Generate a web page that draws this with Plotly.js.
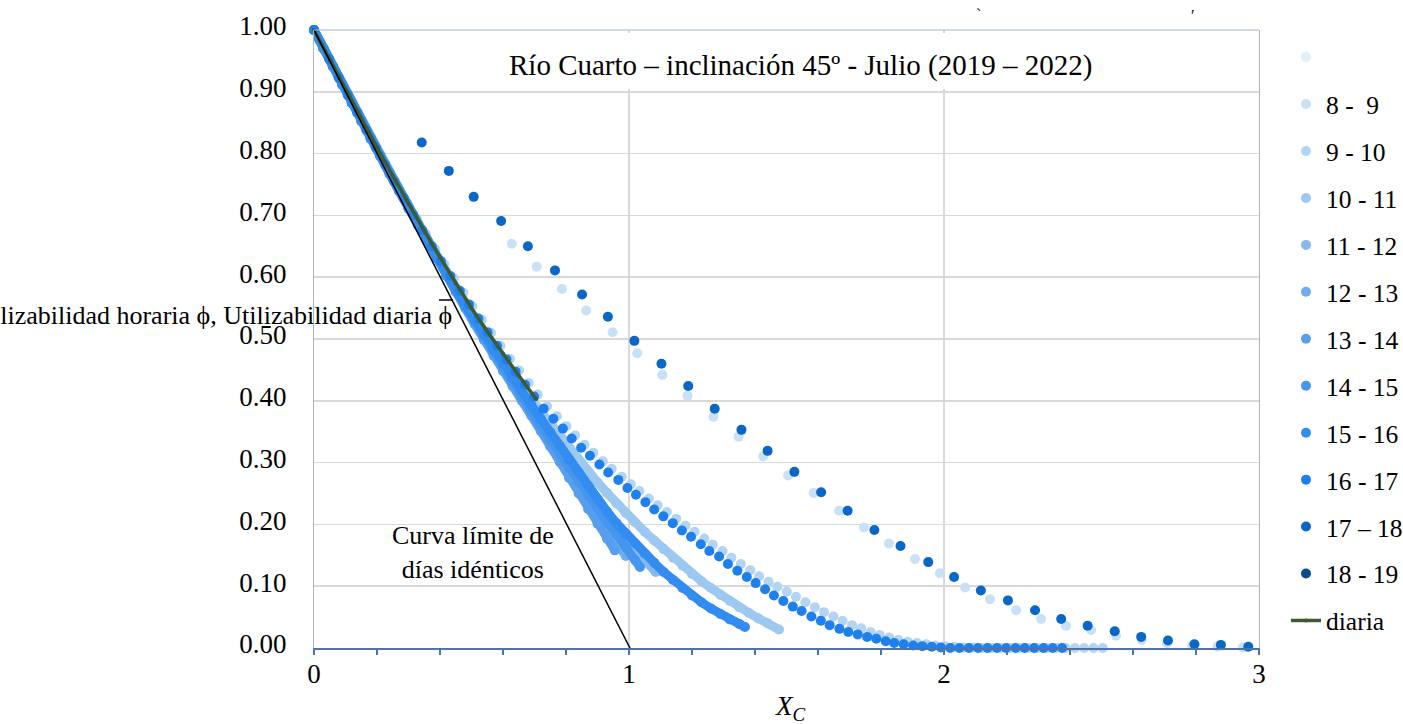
<!DOCTYPE html>
<html>
<head>
<meta charset="utf-8">
<script src="https://cdn.plot.ly/plotly-3.0.1.min.js"></script>
<style>html,body{margin:0;padding:0;background:#fff;}#chart{width:1403px;height:724px;}</style>
</head>
<body>
<div id="chart"></div>
<script>
// ---------------- DATA ----------------
const seriesNames = ["\u00a0", "8 - \u00a09", "9 - 10", "10 - 11", "11 - 12", "12 - 13", "13 - 14",
  "14 - 15", "15 - 16", "16 - 17", "17 \u2013 18", "18 - 19"];
const seriesColors = ["#e2eefa", "#c9e1f6", "#b3d4f2", "#9dc8f0", "#86baee", "#6eadee", "#579fee",
  "#4496ee", "#338cef", "#1e80ee", "#0a67c6", "#0a4b8e"];

// 7-8 (blank legend entry) : no visible points
const x_0708 = [null];
const y_0708 = [null];

// 8-9
const x_0809 = [0.628,0.707,0.787,0.864,0.948,1.026,1.106,1.186,1.268,1.348,1.426,1.505,1.586,1.667,1.746,1.825,1.908,1.987,2.067,2.146,2.229,2.308,2.387,2.467,2.546,2.628,2.708,2.788,2.868,2.949];
const y_0809 = [0.654,0.617,0.581,0.546,0.511,0.477,0.442,0.408,0.374,0.342,0.310,0.279,0.251,0.222,0.195,0.169,0.144,0.121,0.098,0.079,0.061,0.047,0.036,0.029,0.020,0.013,0.008,0.004,0.002,0.001];

// 9-10
const x_0910 = [0,0.059,0.089,0.118,0.148,0.177,0.207,0.237,0.266,0.296,0.326,0.355,0.385,0.414,0.444,0.474,0.503,0.533,0.562,0.592,0.622,0.651,0.681,0.710,
  0.740,0.771,0.801,0.829,0.859,0.887,0.917,0.945,0.977,1.006,1.033,1.063,1.091,1.120,1.150,1.179,1.208,1.239,1.266,1.297,1.325,1.355,1.385,1.413,1.443,1.471,
  1.501,1.530,1.560,1.590,1.619,1.649,1.678,1.708,1.737,1.767,1.796,1.826,1.855,1.885,1.914,1.944,1.973,2.003,2.032,2.062,
  2.091,2.121,2.150,2.180,2.209,2.239,2.268,2.298,2.327,2.357,2.386,2.416,2.445,2.475,2.504];
const y_0910 = [1,0.943,0.913,0.885,0.857,0.829,0.801,0.774,0.747,0.721,0.695,0.670,0.645,0.621,0.598,0.575,0.553,0.531,0.510,0.489,0.468,0.449,0.429,0.410,
  0.391,0.375,0.359,0.344,0.329,0.316,0.302,0.290,0.277,0.265,0.254,0.242,0.231,0.220,0.209,0.198,0.188,0.177,0.167,0.157,0.146,0.136,0.126,0.116,0.107,0.099,
  0.091,0.083,0.074,0.066,0.058,0.051,0.044,0.037,0.032,0.026,0.021,0.017,0.013,0.010,0.008,0.006,0.004,0.003,0.002,0.001,
  0.001,0,0,0,0,0,0,0,0,0,0,0,0,0,0];

// 10-11
const x_1011 = [0,0.03,0.06,0.09,0.12,0.15,0.18,0.21,0.24,0.27,0.30,0.33,0.36,0.39,
  0.42,0.45,0.48,0.51,0.54,0.57,0.60,0.63,0.66,0.69,0.72,0.75,0.78,0.81,0.84,0.87,0.90,0.93,0.96,0.99,
  1.02,1.05,1.08,1.11,1.14,1.17,1.20,1.23,1.26,1.29,1.32,1.35,1.38,1.41,1.44,1.476];
const y_1011 = [1.000,0.971,0.941,0.912,0.883,0.854,0.825,0.797,0.769,0.742,0.714,0.687,0.661,0.634,
  0.608,0.583,0.559,0.535,0.512,0.489,0.467,0.445,0.424,0.403,0.383,0.363,0.343,0.324,0.305,0.286,0.268,0.251,0.234,0.218,
  0.203,0.188,0.174,0.160,0.146,0.133,0.120,0.108,0.097,0.086,0.076,0.066,0.057,0.048,0.040,0.030];

// 11-12
const x_1112 = [0,0.03,0.06,0.09,0.12,0.15,0.18,0.21,0.24,0.27,0.30,0.33,0.36,0.39,
  0.42,0.45,0.48,0.51,0.54,0.57,0.60,0.63,0.66,0.69,0.72,0.75,0.78,0.81,0.84,0.87,0.90,0.93,0.96,0.99,1.02,1.05,1.085];
const y_1112 = [1.000,0.970,0.941,0.912,0.882,0.853,0.825,0.797,0.769,0.741,0.713,0.686,0.659,0.632,
  0.605,0.579,0.554,0.529,0.505,0.481,0.457,0.434,0.411,0.388,0.365,0.343,0.320,0.298,0.277,0.256,0.235,0.215,0.196,0.177,0.159,0.142,0.123];

// 12-13
const x_1213 = [0,0.03,0.06,0.09,0.12,0.15,0.18,0.21,0.24,0.27,0.30,0.33,0.36,0.39,
  0.42,0.45,0.48,0.51,0.54,0.57,0.60,0.63,0.66,0.69,0.72,0.75,0.78,0.81,0.84,0.87,0.90,0.93,0.96,0.99];
const y_1213 = [1.000,0.970,0.941,0.911,0.882,0.853,0.824,0.796,0.768,0.740,0.712,0.685,0.658,0.631,
  0.604,0.578,0.552,0.526,0.501,0.476,0.452,0.428,0.404,0.380,0.356,0.332,0.308,0.284,0.260,0.237,0.214,0.192,0.170,0.149];

// 13-14
const x_1314 = [0,0.03,0.06,0.09,0.12,0.15,0.18,0.21,0.24,0.27,0.30,0.33,0.36,0.39,
  0.42,0.45,0.48,0.51,0.54,0.57,0.60,0.63,0.66,0.69,0.72,0.75,0.78,0.81,0.84,0.87,0.90,0.93,0.955];
const y_1314 = [1.000,0.970,0.941,0.911,0.882,0.853,0.824,0.796,0.767,0.739,0.711,0.684,0.657,0.630,
  0.602,0.576,0.550,0.524,0.498,0.473,0.448,0.424,0.400,0.376,0.351,0.326,0.301,0.275,0.250,0.225,0.201,0.177,0.158];

// 14-15
const x_1415 = [0,0.03,0.06,0.09,0.12,0.15,0.18,0.21,0.24,0.27,0.30,0.33,0.36,0.39,
  0.42,0.45,0.48,0.51,0.54,0.57,0.60,0.63,0.66,0.69,0.72,0.75,0.78,0.81,0.84,0.87,0.90,0.93,0.96,0.99,1.02,1.035];
const y_1415 = [1.000,0.970,0.941,0.911,0.882,0.853,0.824,0.796,0.768,0.740,0.712,0.685,0.658,0.631,
  0.604,0.578,0.553,0.528,0.503,0.479,0.455,0.431,0.407,0.384,0.360,0.337,0.314,0.291,0.269,0.247,0.226,0.205,0.184,0.163,0.142,0.131];

// 15-16
const x_1516 = [0,0.03,0.06,0.09,0.12,0.15,0.18,0.21,0.24,0.27,0.30,0.33,0.36,0.39,
  0.42,0.45,0.48,0.51,0.54,0.57,0.60,0.63,0.66,0.69,0.72,0.75,0.78,0.81,0.84,0.87,0.90,0.93,0.96,0.99,
  1.02,1.05,1.08,1.11,1.14,1.17,1.20,1.23,1.26,1.29,1.32,1.35,1.368];
const y_1516 = [1.000,0.970,0.941,0.912,0.882,0.853,0.825,0.797,0.769,0.741,0.713,0.686,0.659,0.632,
  0.606,0.580,0.555,0.531,0.507,0.483,0.460,0.437,0.415,0.393,0.371,0.349,0.327,0.305,0.284,0.263,0.242,0.221,0.202,0.185,
  0.169,0.153,0.138,0.123,0.110,0.097,0.085,0.074,0.064,0.055,0.046,0.039,0.034];

// 16-17
const x_1617 = [0,0.048,0.078,0.107,0.137,0.166,0.196,0.226,0.255,0.285,0.315,0.344,0.374,0.403,0.433,0.463,0.492,0.522,0.551,0.581,0.611,0.640,0.670,0.699,
  0.729,0.760,0.790,0.818,0.848,0.876,0.906,0.934,0.966,0.995,1.022,1.052,1.080,1.109,1.139,1.168,1.197,1.228,1.255,1.286,1.314,1.344,1.374,1.402,1.432,1.460,
  1.490,1.520,1.548,1.579,1.609,1.637,1.668,1.696,1.726,1.756,1.785,1.815,1.842,1.872,1.902,1.931,1.961,1.990,
  2.020,2.049,2.079,2.108,2.138,2.168,2.197,2.227,2.256,2.286,2.316,2.345,2.375];
const y_1617 = [1,0.953,0.923,0.895,0.866,0.838,0.810,0.782,0.755,0.728,0.701,0.676,0.650,0.626,0.602,0.578,0.556,0.533,0.511,0.489,0.467,0.447,0.426,0.407,
  0.387,0.371,0.355,0.339,0.324,0.311,0.297,0.284,0.272,0.259,0.248,0.236,0.224,0.213,0.202,0.190,0.180,0.168,0.157,0.148,0.136,0.125,0.115,0.105,0.095,0.085,
  0.076,0.067,0.060,0.051,0.044,0.037,0.031,0.026,0.022,0.018,0.015,0.011,0.008,0.006,0.004,0.003,0.002,0.001,
  0,0,0,0,0,0,0,0,0,0,0,0,0];

// 17-18
const x_1718 = [0.342,0.428,0.507,0.594,0.679,0.765,0.851,0.933,1.017,1.103,1.188,1.272,1.357,1.440,1.525,1.610,1.694,1.779,1.862,1.950,2.032,2.117,2.203,2.289,2.372,2.456,2.542,2.626,2.711,2.795,2.879,2.966];
const y_1718 = [0.818,0.772,0.730,0.691,0.650,0.611,0.572,0.536,0.497,0.460,0.424,0.387,0.353,0.319,0.285,0.252,0.222,0.191,0.165,0.139,0.115,0.093,0.077,0.061,0.047,0.036,0.027,0.018,0.012,0.006,0.005,0.002];

// 18-19 : no visible points
const x_1819 = [null];
const y_1819 = [null];

// daily utilizability (diaria)
const x_diaria = [0,0.05,0.10,0.15,0.20,0.25,0.30,0.35,0.40,0.45,0.50,0.55,0.60,0.65,0.705];
const y_diaria = [1,0.952,0.904,0.857,0.810,0.764,0.719,0.675,0.632,0.590,0.550,0.512,0.476,0.441,0.403];

// identical-days limit curve
const x_limite = [0, 1.003];
const y_limite = [1, 0];

const xTicks = [0, 1, 2, 3];
const yTicks = [0, 0.1, 0.2, 0.3, 0.4, 0.5, 0.6, 0.7, 0.8, 0.9, 1.0];

const chartTitle = "Río Cuarto \u2013 inclinación 45º - Julio (2019 \u2013 2022)";
const yLabel = "Utilizabilidad horaria \u03d5, Utilizabilidad diaria \u03d5";
const xLabel = "<i>X</i><sub><i>C</i></sub>";
const limiteLabel = "Curva límite de<br>días idénticos";

// ---------------- TRACES ----------------
const hourly = [
  [x_0708, y_0708], [x_0809, y_0809], [x_0910, y_0910], [x_1011, y_1011], [x_1112, y_1112],
  [x_1213, y_1213], [x_1314, y_1314], [x_1415, y_1415], [x_1516, y_1516], [x_1617, y_1617],
  [x_1718, y_1718], [x_1819, y_1819]
];
// series whose points are so close together that they merge into a continuous band
const denseSeries = [3, 4, 5, 6, 7, 8];

const traces = [];
hourly.forEach((xy, i) => {
  if (denseSeries.includes(i)) {
    traces.push({
      type: 'scatter', mode: 'lines', x: xy[0], y: xy[1], legendgroup: 'g' + i,
      showlegend: false, cliponaxis: false, hoverinfo: 'skip',
      line: {color: seriesColors[i], width: 9}
    });
  }
  traces.push({
    type: 'scatter', mode: 'markers', name: seriesNames[i],
    x: xy[0], y: xy[1], legendgroup: 'g' + i, cliponaxis: false,
    marker: {size: 10, color: seriesColors[i], line: {width: 0}},
    hoverinfo: 'x+y'
  });
});
traces.push({
  type: 'scatter', mode: 'lines+markers', name: 'diaria', x: x_diaria, y: y_diaria,
  legendgroup: 'gd', cliponaxis: false,
  line: {color: '#3e5a2f', width: 3.5}, marker: {size: 4, color: '#3e5a2f'}
});
traces.push({
  type: 'scatter', mode: 'lines', x: x_limite, y: y_limite, showlegend: false,
  cliponaxis: false, line: {color: '#000000', width: 1.5}
});

const FONT = '"Liberation Serif", "Times New Roman", serif';
const L = 314, R = 1259, T = 30, B = 648;
const px = v => (v - L) / (R - L);
const py = v => (B - v) / (B - T);

const layout = {
  width: 1403, height: 724,
  margin: {l: L, r: 1403 - R, t: T, b: 724 - B, pad: 0, autoexpand: false},
  paper_bgcolor: '#ffffff', plot_bgcolor: '#ffffff',
  font: {family: FONT, size: 26, color: '#000000'},
  showlegend: true,
  legend: {
    x: px(1286), xanchor: 'left', y: py(34), yanchor: 'top',
    font: {family: FONT, size: 25.5, color: '#000'},
    bgcolor: 'rgba(0,0,0,0)', borderwidth: 0,
    traceorder: 'grouped', tracegroupgap: 10.8
  },
  xaxis: {
    range: [0, 3], tickvals: xTicks, ticktext: xTicks.map(String),
    showgrid: true, gridcolor: '#d9d9d9', gridwidth: 1.5, zeroline: false,
    showline: true, linecolor: '#4f73a8', linewidth: 1.5,
    ticks: 'outside', ticklen: 5, tickcolor: '#4f73a8', tickwidth: 1.2,
    minor: {dtick: 0.2, ticks: 'outside', ticklen: 5, tickcolor: '#4f73a8', tickwidth: 1.2, showgrid: false},
    tickfont: {family: FONT, size: 27, color: '#000'},
    ticklabelstandoff: -4
  },
  yaxis: {
    range: [0, 1], tickvals: yTicks, ticktext: yTicks.map(v => v.toFixed(2)),
    showgrid: true, gridcolor: '#d9d9d9', gridwidth: 1.5, zeroline: false,
    showline: true, linecolor: '#a9b6c8', linewidth: 1.2, mirror: true,
    ticks: '', tickfont: {family: FONT, size: 27, color: '#000'},
    ticklabelstandoff: 21, ticklabelshift: -4
  },
  shapes: [
    {type: 'line', xref: 'paper', yref: 'paper', x0: 0, x1: 1, y0: 1, y1: 1,
     line: {color: '#a9b6c8', width: 1.2}, layer: 'above'},
    {type: 'rect', xref: 'paper', yref: 'paper', x0: px(470), x1: px(1256), y0: py(89), y1: py(33),
     fillcolor: '#ffffff', line: {width: 0}, layer: 'above'},
    {type: 'line', xref: 'paper', yref: 'paper', x0: px(439), x1: px(453), y0: py(300), y1: py(300),
     line: {color: '#000', width: 1.5}, layer: 'above'}
  ],
  annotations: [
    {text: chartTitle, xref: 'paper', yref: 'paper', x: px(800), y: py(66), xanchor: 'center', yanchor: 'middle',
     showarrow: false, font: {family: FONT, size: 29, color: '#000'}},
    {text: yLabel, xref: 'paper', yref: 'paper', x: px(454), y: py(315), xanchor: 'right', yanchor: 'middle',
     showarrow: false, font: {family: FONT, size: 26, color: '#000'}},
    {text: xLabel, xref: 'paper', yref: 'paper', x: px(790), y: py(708), xanchor: 'center', yanchor: 'middle',
     showarrow: false, font: {family: FONT, size: 27, color: '#000'}},
    {text: limiteLabel, xref: 'paper', yref: 'paper', x: px(473), y: py(552), xanchor: 'center', yanchor: 'middle',
     showarrow: false, align: 'center', font: {family: FONT, size: 26, color: '#000'}},
    {text: '`', xref: 'paper', yref: 'paper', x: px(978), y: py(14), xanchor: 'center', yanchor: 'middle',
     showarrow: false, font: {family: FONT, size: 16, color: '#000'}},
    {text: '\u02b9', xref: 'paper', yref: 'paper', x: px(1193), y: py(16), xanchor: 'center', yanchor: 'middle',
     showarrow: false, font: {family: FONT, size: 16, color: '#000'}}
  ]
};

Plotly.newPlot('chart', traces, layout, {displayModeBar: false, staticPlot: true});
</script>
</body>
</html>
